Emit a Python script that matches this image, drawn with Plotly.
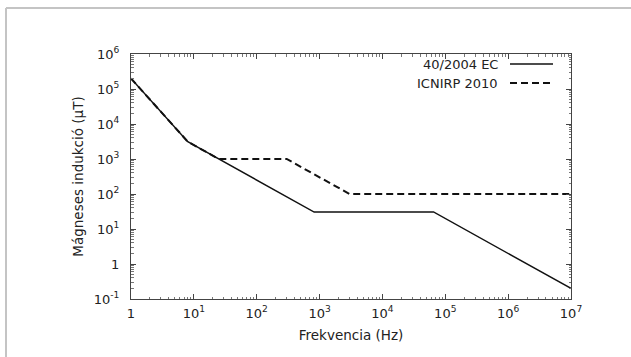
import plotly.graph_objects as go

# 2004/40/EC action values (magnetic induction, µT) at breakpoint frequencies (Hz)
ec_freq = [1, 8, 820, 65000, 1e7]
ec_b = [2e5, 3125, 30.5, 30.7, 0.2]

# ICNIRP 2010 reference levels (µT)
icnirp_freq = [1, 8, 25, 300, 3000, 1e7]
icnirp_b = [2e5, 3125, 1000, 1000, 100, 100]

x_tickvals = [1, 1e1, 1e2, 1e3, 1e4, 1e5, 1e6, 1e7]
x_ticktext = ["1", "10<sup>1</sup>", "10<sup>2</sup>", "10<sup>3</sup>", "10<sup>4</sup>",
              "10<sup>5</sup>", "10<sup>6</sup>", "10<sup>7</sup>"]
y_tickvals = [0.1, 1, 1e1, 1e2, 1e3, 1e4, 1e5, 1e6]
y_ticktext = ["10<sup>-1</sup>", "1", "10<sup>1</sup>", "10<sup>2</sup>", "10<sup>3</sup>",
              "10<sup>4</sup>", "10<sup>5</sup>", "10<sup>6</sup>"]

series_names = ["40/2004 EC", "ICNIRP 2010"]

FONT = "DejaVu Sans"
fig = go.Figure()
fig.add_trace(go.Scatter(x=ec_freq, y=ec_b, mode="lines", name=series_names[0],
                         line=dict(color="#111", width=1.5), showlegend=False))
fig.add_trace(go.Scatter(x=icnirp_freq, y=icnirp_b, mode="lines", name=series_names[1],
                         line=dict(color="#111", width=2, dash="7px,4px"), showlegend=False))

W, H = 631, 357
L, R, T, B = 131, 60, 54, 58
pw, ph = W - L - R, H - T - B

def px(x):
    return (x - L) / pw

def py(y):
    return (H - B - y) / ph

axis_common = dict(
    type="log", showgrid=False, zeroline=False, showline=True, linecolor="#444",
    linewidth=1, mirror="ticks", ticks="inside", ticklen=5, tickcolor="#444",
    tickfont=dict(family=FONT, size=13, color="#222"),
    minor=dict(ticks="inside", ticklen=2.5, tickcolor="#777", dtick="D1", showgrid=False),
)

fig.update_xaxes(range=[0, 7], tickvals=x_tickvals, ticktext=x_ticktext,
                 ticklabelstandoff=2,
                 title=dict(text="Frekvencia (Hz)", font=dict(family=FONT, size=13.5, color="#222"),
                            standoff=10),
                 **axis_common)
fig.update_yaxes(range=[-1, 6], tickvals=y_tickvals, ticktext=y_ticktext,
                 ticklabelstandoff=8,
                 title=dict(text="Mágneses indukció (µT)", font=dict(family=FONT, size=13.5, color="#222"),
                            standoff=7),
                 **axis_common)

# legend (text left, sample right) drawn manually
legend_rows = [(64, "solid", 1.5), (83, "7px,4px", 2)]
for (ypix, dash, lw), name in zip(legend_rows, series_names):
    fig.add_annotation(x=px(500), y=py(ypix), xref="paper", yref="paper", text=name,
                       showarrow=False, xanchor="right", yanchor="middle",
                       font=dict(family=FONT, size=13, color="#222"))
    fig.add_shape(type="line", xref="paper", yref="paper", x0=px(510), x1=px(553),
                  y0=py(ypix), y1=py(ypix), line=dict(color="#111", width=lw, dash=dash))

# outer frame (top and left gray border)
fig.add_shape(type="line", xref="paper", yref="paper", x0=px(6), x1=px(640), y0=py(8), y1=py(8),
              line=dict(color="#c4c4c4", width=2))
fig.add_shape(type="line", xref="paper", yref="paper", x0=px(6), x1=px(6), y0=py(8), y1=py(365),
              line=dict(color="#c4c4c4", width=2))

fig.update_layout(width=W, height=H, margin=dict(l=L, r=R, t=T, b=B, autoexpand=False),
                  paper_bgcolor="white", plot_bgcolor="white",
                  font=dict(family=FONT, size=13, color="#222"))
fig.write_html("out.html", config={"displayModeBar": False},
               post_script="document.body.style.margin='0';document.body.style.overflow='hidden';")
